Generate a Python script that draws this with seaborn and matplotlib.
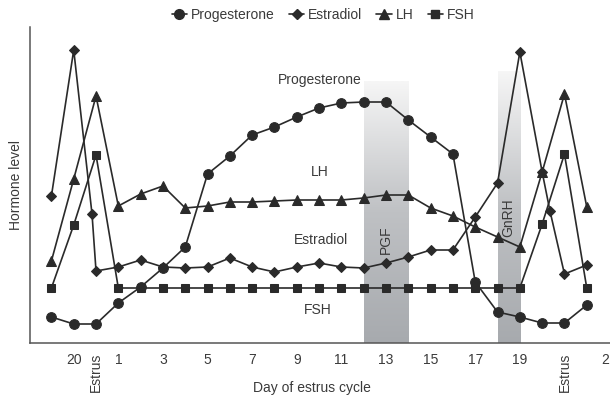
import numpy as np
import pandas as pd
import matplotlib
matplotlib.use("Agg")
import matplotlib.pyplot as plt
import seaborn as sns
from matplotlib.colors import LinearSegmentedColormap
from matplotlib.lines import Line2D

sns.set_style("white")
plt.rcParams['font.family'] = ['Liberation Sans', 'DejaVu Sans']

# x position index: 0 = day 19, 1 = day 20, 2 = estrus, 3 = day 1 ... 21 = day 19, 23 = estrus
days = list(range(25))
progesterone = [26, 19, 19, 40, 56, 75, 96, 169, 187, 208, 216, 226, 235, 240, 241,
                241, 223, 206, 189, 61, 31, 26, 20, 20, 38]
lh = [82, 164, 247, 137, 149, 157, 135, 137, 141, 141, 142, 143, 143, 143, 145,
      148, 148, 135, 127, 116, 106, 96, 171, 249, 136]
fsh = [55, 118, 188, 55, 55, 55, 55, 55, 55, 55, 55, 55, 55, 55, 55,
       55, 55, 55, 55, 55, 55, 55, 119, 189, 55]
estradiol_days = [0, 1, 1.82, 2, 3, 4, 5, 6, 7, 8, 9, 10, 11, 12, 13, 14, 15, 16,
                  17, 18, 19, 20, 21, 22, 22.35, 23, 24]
estradiol = [147, 293, 129, 72, 76, 83, 76, 75, 76, 85, 76, 71, 76, 80, 76, 75, 80,
             86, 93, 93, 126, 160, 291, 171, 132, 69, 78]

tick_pos = list(range(26))
tick_text = {1: '20', 2: 'Estrus', 3: '1', 5: '3', 7: '5', 9: '7', 11: '9', 13: '11',
             15: '13', 17: '15', 19: '17', 21: '19', 23: 'Estrus', 25: '2'}

# shaded treatment windows (start, end, top, label)
bands = [(14, 16, 262, 'PGF'), (20, 21, 272, 'GnRH')]

ink = '#2a2a2a'
txt = '#3a3a3a'

fig = plt.figure(figsize=(6.1, 4.0), dpi=100)
ax = fig.add_axes([30 / 610, 57 / 400, 588 / 610, 316 / 400])

band_cmap = LinearSegmentedColormap.from_list('band', ['#a7aaae', '#bfc1c4', '#f6f6f6'])
grad = np.linspace(0, 1, 256).reshape(-1, 1)
for x0, x1, top, _ in bands:
    ax.imshow(grad, extent=[x0, x1, 0, top], origin='lower', aspect='auto',
              cmap=band_cmap, zorder=0)

series = [
    ('Progesterone', days, progesterone, 'o', 7),
    ('Estradiol', estradiol_days, estradiol, 'D', 5.5),
    ('LH', days, lh, '^', 6.5),
    ('FSH', days, fsh, 's', 5.5),
]
for name, xs, ys, mk, ms in series:
    df = pd.DataFrame({'x': xs, 'y': ys})
    sns.lineplot(data=df, x='x', y='y', ax=ax, color=ink, marker=mk, markersize=ms,
                 markeredgecolor=ink, linewidth=1.2, zorder=3, sort=False)

ax.set_xlim(-0.96, 25.4)
ax.set_ylim(0, 316)

ax.set_xticks(tick_pos)
ax.set_xticklabels([tick_text.get(t, '') for t in tick_pos], fontsize=10, color=txt)
labels = ax.get_xticklabels()
for lab in labels:
    if lab.get_text() == 'Estrus':
        lab.set_rotation(90)
labels[-1].set_horizontalalignment('right')
ax.set_yticks([])
ax.tick_params(axis='x', direction='out', length=4, width=1, color='#555555', pad=3)

for s in ['top', 'right']:
    ax.spines[s].set_visible(False)
for s in ['left', 'bottom']:
    ax.spines[s].set_color('#555555')
    ax.spines[s].set_linewidth(1.1)

ax.set_ylabel('Hormone level', fontsize=10, color=txt, labelpad=5)
ax.set_xlabel('Day of estrus cycle', fontsize=10, color=txt, va='center')
ax.xaxis.set_label_coords(0.48, -0.142)

ax.text(12.05, 263, 'Progesterone', ha='center', va='center', fontsize=10, color=txt)
ax.text(12.05, 171, 'LH', ha='center', va='center', fontsize=10, color=txt)
ax.text(12.1, 103, 'Estradiol', ha='center', va='center', fontsize=10, color=txt)
ax.text(11.95, 33, 'FSH', ha='center', va='center', fontsize=10, color=txt)
for x0, x1, top, label in bands:
    yc = 103 if label == 'PGF' else 125
    ax.text((x0 + x1) / 2, yc, label, rotation=90, ha='center', va='center',
            fontsize=10, color=txt)

handles = [Line2D([], [], color=ink, marker=mk, markersize=ms, lw=1.2)
           for _, _, _, mk, ms in series]
fig.legend(handles, [s[0] for s in series], loc='center', bbox_to_anchor=(0.53, 0.962),
           ncol=4, frameon=False, fontsize=10, handlelength=1.1, handletextpad=0.3,
           columnspacing=1.0, labelcolor=txt)

fig.savefig('out.png', dpi=100)
